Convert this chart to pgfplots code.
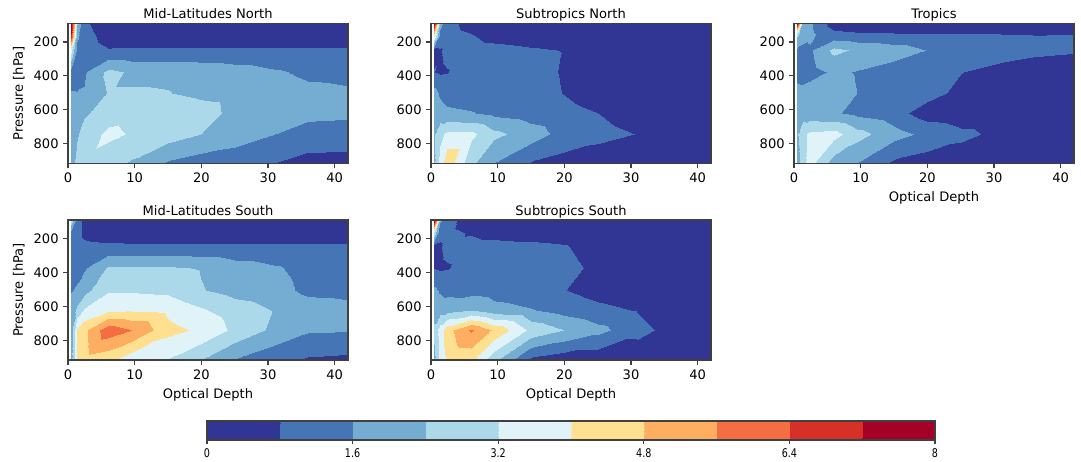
\documentclass[border=0pt]{standalone}
\usepackage{fontspec}
\setmainfont{DejaVu Sans}
\newfontfamily\cbfont[FakeStretch=0.8]{DejaVu Sans}
\usepackage{pgfplots}
\pgfplotsset{compat=1.18}
\pgfplotsset{
  colormap={rdyl}{rgb255=(49,54,149) rgb255=(69,117,180) rgb255=(116,173,209) rgb255=(171,217,233) rgb255=(224,243,248) rgb255=(254,224,144) rgb255=(253,174,97) rgb255=(244,109,67) rgb255=(215,48,39) rgb255=(165,0,38)},
  panel/.style={
    anchor=north west, scale only axis, width=210pt, height=105pt,
    xmin=0, xmax=42, ymin=90, ymax=915, y dir=reverse,
    enlargelimits=false, axis on top,
    xtick={0,10,20,30,40}, ytick={200,400,600,800},
    tick align=outside, tick pos=left, major tick length=3.5pt,
    axis line style={black!75, line width=0.8pt},
    every tick/.style={black!75, line width=0.8pt},
    colormap name=rdyl, colormap access=piecewise constant,
    point meta min=0, point meta max=8,
    /pgf/number format/assume math mode=true,
    tick label style={font=\fontsize{9.8pt}{11pt}\selectfont},
    label style={font=\fontsize{9.8pt}{11pt}\selectfont},
    title style={font=\fontsize{9.8pt}{11pt}\selectfont, at={(0.5,1)}, anchor=base, yshift=-2.25pt},
  },
  cf/.style={surf, shader=interp, mesh/cols=11, point meta=explicit},
}
\begin{document}
\begin{tikzpicture}
\path[use as bounding box] (0,0) rectangle (810.75pt,-345.75pt);
% Mid-Latitudes North
\begin{axis}[panel, at={(51pt,-17.5pt)}, title={Mid-Latitudes North}, ylabel={Pressure [hPa]}]
\addplot[cf] coordinates {
(0.4,90)[10] (1.3,90)[2.5] (2.4,90)[0.95] (6,90)[0.3] (9.5,90)[0.3] (15,90)[0.3] (20,90)[0.3] (25,90)[0.3] (31,90)[0.3] (36,90)[0.3] (42,90)[0.3]
(0.4,165)[7] (1.3,165)[1.8] (2.4,165)[1.1] (6,165)[0.5] (9.5,165)[0.5] (15,165)[0.5] (20,165)[0.5] (25,165)[0.5] (31,165)[0.5] (36,165)[0.5] (42,165)[0.5]
(0.4,245)[3.5] (1.3,245)[1.3] (2.4,245)[1.2] (6,245)[0.85] (9.5,245)[0.88] (15,245)[0.87] (20,245)[0.86] (25,245)[0.86] (31,245)[0.86] (36,245)[0.86] (42,245)[0.86]
(0.4,375)[1.3] (1.3,375)[1.3] (2.4,375)[1.5] (6,375)[2.6] (9.5,375)[2.3] (15,375)[2.3] (20,375)[2.2] (25,375)[2.0] (31,375)[1.7] (36,375)[1.45] (42,375)[1.4]
(0.4,500)[1.65] (1.3,500)[1.62] (2.4,500)[1.65] (6,500)[2.45] (9.5,500)[2.45] (15,500)[2.42] (20,500)[2.25] (25,500)[2.15] (31,500)[2.0] (36,500)[1.8] (42,500)[1.7]
(0.4,620)[2.0] (1.3,620)[2.0] (2.4,620)[2.25] (6,620)[2.9] (9.5,620)[3.0] (15,620)[2.9] (20,620)[2.7] (25,620)[2.2] (31,620)[1.95] (36,620)[1.8] (42,620)[1.75]
(0.4,740)[2.0] (1.3,740)[2.3] (2.4,740)[2.8] (6,740)[3.35] (9.5,740)[3.15] (15,740)[2.8] (20,740)[2.4] (25,740)[2.1] (31,740)[1.6] (36,740)[1.3] (42,740)[1.3]
(0.4,915)[2.0] (1.3,915)[2.7] (2.4,915)[3.05] (6,915)[2.83] (9.5,915)[2.3] (15,915)[1.5] (20,915)[1.2] (25,915)[1.0] (31,915)[0.8] (36,915)[0.5] (42,915)[0.45]
};
\end{axis}
% Subtropics North
\begin{axis}[panel, at={(323.25pt,-17.5pt)}, title={Subtropics North}]
\addplot[cf] coordinates {
(0.4,90)[10] (1.3,90)[2.0] (2.4,90)[1.0] (6,90)[0.6] (9.5,90)[0.3] (15,90)[0.3] (20,90)[0.3] (25,90)[0.3] (31,90)[0.3] (36,90)[0.3] (42,90)[0.3]
(0.4,165)[4.0] (1.3,165)[1.2] (2.4,165)[1.0] (6,165)[0.85] (9.5,165)[0.6] (15,165)[0.5] (20,165)[0.45] (25,165)[0.3] (31,165)[0.3] (36,165)[0.3] (42,165)[0.3]
(0.4,245)[0.7] (1.3,245)[0.75] (2.4,245)[0.95] (6,245)[1.05] (9.5,245)[1.0] (15,245)[0.87] (20,245)[0.78] (25,245)[0.5] (31,245)[0.4] (36,245)[0.3] (42,245)[0.3]
(0.4,375)[0.82] (1.3,375)[0.7] (2.4,375)[0.77] (6,375)[1.2] (9.5,375)[1.1] (15,375)[1.0] (20,375)[0.75] (25,375)[0.5] (31,375)[0.3] (36,375)[0.3] (42,375)[0.3]
(0.4,500)[1.9] (1.3,500)[1.5] (2.4,500)[1.3] (6,500)[1.2] (9.5,500)[1.1] (15,500)[1.05] (20,500)[0.78] (25,500)[0.5] (31,500)[0.35] (36,500)[0.3] (42,500)[0.3]
(0.4,620)[2.0] (1.3,620)[1.9] (2.4,620)[1.75] (6,620)[1.65] (9.5,620)[1.4] (15,620)[1.2] (20,620)[1.0] (25,620)[0.8] (31,620)[0.5] (36,620)[0.35] (42,620)[0.3]
(0.4,740)[2.3] (1.3,740)[3.0] (2.4,740)[3.4] (6,740)[3.4] (9.5,740)[2.6] (15,740)[2.0] (20,740)[1.3] (25,740)[1.0] (31,740)[0.78] (36,740)[0.4] (42,740)[0.3]
(0.4,915)[2.3] (1.3,915)[3.5] (2.4,915)[4.6] (6,915)[2.6] (9.5,915)[1.6] (15,915)[0.75] (20,915)[0.5] (25,915)[0.4] (31,915)[0.3] (36,915)[0.3] (42,915)[0.3]
};
\end{axis}
% Tropics
\begin{axis}[panel, at={(595.5pt,-17.5pt)}, title={Tropics}, xlabel={Optical Depth}]
\addplot[cf] coordinates {
(0.4,90)[10] (1.3,90)[2.2] (2.4,90)[1.7] (6,90)[0.4] (9.5,90)[0.3] (15,90)[0.3] (20,90)[0.3] (25,90)[0.3] (31,90)[0.3] (36,90)[0.3] (42,90)[0.3]
(0.4,150)[2.6] (1.3,150)[1.9] (2.4,150)[1.8] (6,150)[1.0] (9.5,150)[0.9] (15,150)[0.85] (20,150)[0.85] (25,150)[0.82] (31,150)[0.8] (36,150)[0.78] (42,150)[0.8]
(0.4,245)[1.5] (1.3,245)[1.4] (2.4,245)[1.5] (6,245)[2.6] (9.5,245)[2.28] (15,245)[2.0] (20,245)[1.58] (25,245)[1.3] (31,245)[1.2] (36,245)[1.0] (42,245)[0.9]
(0.4,375)[1.3] (1.3,375)[1.2] (2.4,375)[1.3] (6,375)[1.75] (9.5,375)[1.55] (15,375)[1.2] (20,375)[1.1] (25,375)[0.82] (31,375)[0.5] (36,375)[0.35] (42,375)[0.3]
(0.4,500)[1.9] (1.3,500)[1.9] (2.4,500)[2.0] (6,500)[1.9] (9.5,500)[1.6] (15,500)[1.3] (20,500)[1.1] (25,500)[0.58] (31,500)[0.35] (36,500)[0.3] (42,500)[0.3]
(0.4,620)[2.0] (1.3,620)[2.0] (2.4,620)[1.9] (6,620)[1.7] (9.5,620)[1.4] (15,620)[1.1] (20,620)[0.42] (25,620)[0.3] (31,620)[0.3] (36,620)[0.3] (42,620)[0.3]
(0.4,740)[2.3] (1.3,740)[3.0] (2.4,740)[3.4] (6,740)[3.5] (9.5,740)[2.7] (15,740)[1.9] (20,740)[1.4] (25,740)[1.0] (31,740)[0.6] (36,740)[0.3] (42,740)[0.3]
(0.4,915)[2.0] (1.3,915)[3.0] (2.4,915)[3.5] (6,915)[2.0] (9.5,915)[1.6] (15,915)[0.65] (20,915)[0.4] (25,915)[0.3] (31,915)[0.3] (36,915)[0.3] (42,915)[0.3]
};
\end{axis}
% Mid-Latitudes South
\begin{axis}[panel, at={(51pt,-165pt)}, title={Mid-Latitudes South}, ylabel={Pressure [hPa]}, xlabel={Optical Depth}]
\addplot[cf] coordinates {
(0.4,90)[3.0] (1.3,90)[1.2] (2.4,90)[0.6] (6,90)[0.3] (9.5,90)[0.3] (15,90)[0.3] (20,90)[0.3] (25,90)[0.3] (31,90)[0.3] (36,90)[0.3] (42,90)[0.3]
(0.4,165)[1.3] (1.3,165)[1.2] (2.4,165)[0.6] (6,165)[0.4] (9.5,165)[0.4] (15,165)[0.4] (20,165)[0.4] (25,165)[0.4] (31,165)[0.4] (36,165)[0.4] (42,165)[0.4]
(0.4,245)[1.3] (1.3,245)[1.25] (2.4,245)[1.0] (6,245)[0.95] (9.5,245)[0.9] (15,245)[0.9] (20,245)[0.9] (25,245)[0.9] (31,245)[0.9] (36,245)[0.88] (42,245)[0.88]
(0.4,375)[1.3] (1.3,375)[1.35] (2.4,375)[1.5] (6,375)[2.5] (9.5,375)[2.55] (15,375)[2.5] (20,375)[2.35] (25,375)[2.0] (31,375)[1.7] (36,375)[1.3] (42,375)[1.3]
(0.4,500)[1.55] (1.3,500)[1.7] (2.4,500)[2.1] (6,500)[3.1] (9.5,500)[3.1] (15,500)[3.0] (20,500)[2.45] (25,500)[2.1] (31,500)[1.9] (36,500)[1.4] (42,500)[1.35]
(0.4,620)[1.9] (1.3,620)[2.6] (2.4,620)[3.3] (6,620)[3.85] (9.5,620)[3.9] (15,620)[3.8] (20,620)[3.3] (25,620)[2.8] (31,620)[2.35] (36,620)[2.0] (42,620)[1.85]
(0.4,740)[2.0] (1.3,740)[4.1] (2.4,740)[4.6] (6,740)[6.1] (9.5,740)[5.63] (15,740)[4.25] (20,740)[3.86] (25,740)[3.0] (31,740)[2.2] (36,740)[1.7] (42,740)[1.65]
(0.4,915)[2.0] (1.3,915)[4.2] (2.4,915)[4.5] (6,915)[4.2] (9.5,915)[3.5] (15,915)[3.15] (20,915)[2.4] (25,915)[1.55] (31,915)[1.0] (36,915)[0.7] (42,915)[0.6]
};
\end{axis}
% Subtropics South
\begin{axis}[panel, at={(323.25pt,-165pt)}, title={Subtropics South}, xlabel={Optical Depth}]
\addplot[cf] coordinates {
(0.4,90)[10] (1.3,90)[1.8] (2.4,90)[1.0] (6,90)[0.5] (9.5,90)[0.3] (15,90)[0.3] (20,90)[0.3] (25,90)[0.3] (31,90)[0.3] (36,90)[0.3] (42,90)[0.3]
(0.4,165)[3.0] (1.3,165)[0.9] (2.4,165)[0.95] (6,165)[0.75] (9.5,165)[0.6] (15,165)[0.5] (20,165)[0.45] (25,165)[0.3] (31,165)[0.3] (36,165)[0.3] (42,165)[0.3]
(0.4,245)[0.78] (1.3,245)[0.75] (2.4,245)[0.95] (6,245)[1.0] (9.5,245)[1.0] (15,245)[0.95] (20,245)[0.85] (25,245)[0.5] (31,245)[0.3] (36,245)[0.3] (42,245)[0.3]
(0.4,375)[0.78] (1.3,375)[0.7] (2.4,375)[0.75] (6,375)[1.2] (9.5,375)[1.15] (15,375)[1.1] (20,375)[1.0] (25,375)[0.65] (31,375)[0.3] (36,375)[0.3] (42,375)[0.3]
(0.4,500)[1.78] (1.3,500)[1.5] (2.4,500)[1.35] (6,500)[1.3] (9.5,500)[1.25] (15,500)[1.1] (20,500)[0.82] (25,500)[0.5] (31,500)[0.3] (36,500)[0.3] (42,500)[0.3]
(0.4,620)[2.0] (1.3,620)[2.0] (2.4,620)[2.1] (6,620)[2.38] (9.5,620)[1.9] (15,620)[1.65] (20,620)[1.3] (25,620)[1.0] (31,620)[0.75] (36,620)[0.3] (42,620)[0.3]
(0.4,740)[2.6] (1.3,740)[3.6] (2.4,740)[4.5] (6,740)[5.7] (9.5,740)[4.68] (15,740)[3.0] (20,740)[2.4] (25,740)[1.85] (31,740)[1.02] (36,740)[0.58] (42,740)[0.3]
(0.4,915)[2.2] (1.3,915)[3.5] (2.4,915)[4.1] (6,915)[4.2] (9.5,915)[2.6] (15,915)[0.6] (20,915)[0.25] (25,915)[0.2] (31,915)[0.3] (36,915)[0.3] (42,915)[0.3]
};
\end{axis}
% Colorbar
\begin{axis}[anchor=north west, at={(155.25pt,-315.75pt)}, scale only axis, width=546pt, height=14.25pt,
  xmin=0, xmax=8, ymin=0, ymax=1, enlargelimits=false, axis on top,
  ytick=\empty, xtick={0,1.6,3.2,4.8,6.4,8}, xticklabels={0,1.6,3.2,4.8,6.4,8},
  tick align=outside, tick pos=left, major tick length=3pt,
  axis line style={black!75, line width=0.8pt},
  every tick/.style={black!75, line width=0.8pt},
  colormap name=rdyl, colormap access=piecewise constant,
  point meta min=0, point meta max=8,
  tick label style={font=\cbfont\fontsize{9pt}{10pt}\selectfont}]
\addplot[surf, shader=interp, mesh/cols=2, point meta=explicit] coordinates {
(0,0)[0] (8,0)[8]
(0,1)[0] (8,1)[8]
};
\end{axis}
\end{tikzpicture}
\end{document}
